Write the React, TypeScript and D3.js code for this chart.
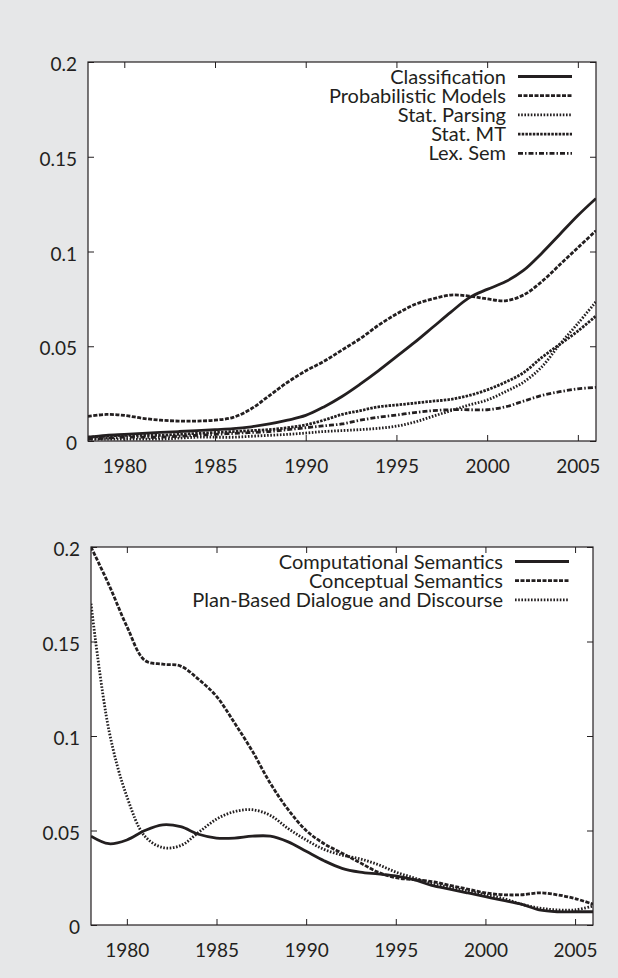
import { useEffect, useRef } from "react";
import * as d3 from "d3";

// years shared by every series
const years = d3.range(1978, 2007);

// top panel
const classification = [0.002, 0.003, 0.0035, 0.004, 0.0045, 0.005, 0.0055, 0.006, 0.0065, 0.0075, 0.009, 0.011, 0.0135, 0.018, 0.0235, 0.03, 0.037, 0.0445, 0.052, 0.06, 0.068, 0.0755, 0.08, 0.084, 0.09, 0.099, 0.109, 0.119, 0.128];
const probModels = [0.013, 0.014, 0.0135, 0.012, 0.011, 0.0105, 0.0105, 0.011, 0.0125, 0.017, 0.024, 0.031, 0.037, 0.042, 0.048, 0.054, 0.061, 0.067, 0.072, 0.075, 0.077, 0.0765, 0.075, 0.074, 0.077, 0.084, 0.093, 0.102, 0.111];
const statParsing = [0.001, 0.001, 0.001, 0.001, 0.001, 0.0015, 0.002, 0.002, 0.002, 0.0025, 0.003, 0.0035, 0.0042, 0.005, 0.0055, 0.006, 0.0067, 0.0078, 0.01, 0.013, 0.016, 0.019, 0.0216, 0.026, 0.031, 0.039, 0.051, 0.062, 0.0735];
const statMT = [0.002, 0.0025, 0.003, 0.003, 0.003, 0.0035, 0.004, 0.0045, 0.005, 0.0055, 0.006, 0.007, 0.0085, 0.011, 0.014, 0.016, 0.018, 0.019, 0.02, 0.021, 0.022, 0.024, 0.027, 0.031, 0.036, 0.044, 0.051, 0.058, 0.066];
const lexSem = [0.001, 0.0015, 0.002, 0.002, 0.002, 0.0025, 0.003, 0.0035, 0.004, 0.0045, 0.005, 0.006, 0.007, 0.008, 0.009, 0.011, 0.0125, 0.0137, 0.015, 0.016, 0.0165, 0.0165, 0.0165, 0.018, 0.021, 0.024, 0.026, 0.0275, 0.0283];

// bottom panel
const compSem = [0.047, 0.043, 0.045, 0.05, 0.053, 0.052, 0.048, 0.046, 0.046, 0.047, 0.047, 0.044, 0.039, 0.034, 0.03, 0.028, 0.027, 0.026, 0.024, 0.021, 0.019, 0.017, 0.015, 0.013, 0.011, 0.008, 0.007, 0.007, 0.007];
const concSem = [0.2, 0.18, 0.158, 0.14, 0.138, 0.137, 0.13, 0.121, 0.107, 0.092, 0.075, 0.061, 0.05, 0.043, 0.038, 0.033, 0.028, 0.025, 0.024, 0.023, 0.021, 0.019, 0.017, 0.016, 0.016, 0.017, 0.016, 0.014, 0.011];
const planDialogue = [0.17, 0.103, 0.068, 0.047, 0.041, 0.042, 0.049, 0.056, 0.06, 0.061, 0.058, 0.051, 0.045, 0.04, 0.037, 0.035, 0.032, 0.028, 0.025, 0.022, 0.02, 0.018, 0.016, 0.014, 0.011, 0.009, 0.008, 0.008, 0.01];

const xTicks = [1980, 1985, 1990, 1995, 2000, 2005];
const yTicks = [0, 0.05, 0.1, 0.15, 0.2];
const yTickLabels = ["0", "0.05", "0.1", "0.15", "0.2"];

const INK = "#231f20";
const FONT = "Lato, 'Open Sans', sans-serif";

type Series = { name: string; values: number[]; dash: string };

const topSeries: Series[] = [
  { name: "Classification", values: classification, dash: "none" },
  { name: "Probabilistic Models", values: probModels, dash: "4,1.5" },
  { name: "Stat. Parsing", values: statParsing, dash: "1.6,1.6" },
  { name: "Stat. MT", values: statMT, dash: "2.5,1.2" },
  { name: "Lex. Sem", values: lexSem, dash: "5,2,1.5,2" },
];

const bottomSeries: Series[] = [
  { name: "Computational Semantics", values: compSem, dash: "none" },
  { name: "Conceptual Semantics", values: concSem, dash: "4,1.5" },
  { name: "Plan-Based Dialogue and Discourse", values: planDialogue, dash: "1.6,1.6" },
];

function drawPanel(
  svg: d3.Selection<SVGSVGElement, unknown, null, undefined>,
  box: { left: number; right: number; top: number; bottom: number },
  series: Series[],
  id: string
) {
  const x = d3.scaleLinear().domain([1978, 2006]).range([box.left, box.right]);
  const y = d3.scaleLinear().domain([0, 0.2]).range([box.bottom, box.top]);
  const g = svg.append("g");

  g.append("rect")
    .attr("x", box.left)
    .attr("y", box.top)
    .attr("width", box.right - box.left)
    .attr("height", box.bottom - box.top)
    .attr("fill", "#fff");

  g.append("clipPath")
    .attr("id", id)
    .append("rect")
    .attr("x", box.left)
    .attr("y", box.top - 1)
    .attr("width", box.right - box.left)
    .attr("height", box.bottom - box.top + 1);

  const line = d3
    .line<number>()
    .x((_, i) => x(years[i]))
    .y((d) => y(d))
    .curve(d3.curveCatmullRom.alpha(0.5));

  const lines = g.append("g").attr("clip-path", `url(#${id})`);
  series.forEach((s) => {
    lines
      .append("path")
      .attr("d", line(s.values))
      .attr("fill", "none")
      .attr("stroke", INK)
      .attr("stroke-width", 2.8)
      .attr("stroke-dasharray", s.dash);
  });

  // axes, ticks mirrored inward on every side
  const styleAxis = (a: d3.Selection<SVGGElement, unknown, null, undefined>) => {
    a.select(".domain").remove();
    a.selectAll("line").attr("stroke", INK).attr("stroke-width", 1);
    a.selectAll("text").attr("fill", INK).style("font-family", FONT).style("font-size", "19px");
  };

  g.append("g")
    .attr("transform", `translate(0,${box.bottom})`)
    .call(d3.axisBottom(x).tickValues(xTicks).tickFormat(d3.format("d")).tickSize(-6).tickPadding(18.5))
    .call(styleAxis);
  g.append("g")
    .attr("transform", `translate(0,${box.top})`)
    .call(d3.axisTop(x).tickValues(xTicks).tickFormat(() => "").tickSize(-6))
    .call(styleAxis);
  const left = g
    .append("g")
    .attr("transform", `translate(${box.left},0)`)
    .call(
      d3.axisLeft(y).tickValues(yTicks).tickFormat((_, i) => yTickLabels[i]).tickSize(-6).tickPadding(11)
    )
    .call(styleAxis);
  left.selectAll("text").attr("dy", "0.45em");
  g.append("g")
    .attr("transform", `translate(${box.right},0)`)
    .call(d3.axisRight(y).tickValues(yTicks).tickFormat(() => "").tickSize(-6))
    .call(styleAxis);

  g.append("rect")
    .attr("x", box.left)
    .attr("y", box.top)
    .attr("width", box.right - box.left)
    .attr("height", box.bottom - box.top)
    .attr("fill", "none")
    .attr("stroke", INK)
    .attr("stroke-width", 1.2);

  // legend
  const legend = g.append("g");
  series.forEach((s, i) => {
    const ly = box.top + 14.5 + i * 19.2;
    legend
      .append("line")
      .attr("x1", box.right - 78)
      .attr("x2", box.right - 24)
      .attr("y1", ly)
      .attr("y2", ly)
      .attr("stroke", INK)
      .attr("stroke-width", 2.8)
      .attr("stroke-dasharray", s.dash);
    legend
      .append("text")
      .attr("x", box.right - 90)
      .attr("y", ly + 7)
      .attr("text-anchor", "end")
      .attr("fill", INK)
      .style("font-family", FONT)
      .style("font-size", "20px")
      .text(s.name);
  });
}

export default function App() {
  const ref = useRef<SVGSVGElement>(null);

  useEffect(() => {
    const svg = d3.select(ref.current!);
    svg.selectAll("*").remove();
    svg.append("rect").attr("width", 618).attr("height", 978).attr("fill", "#e6e7e8");
    drawPanel(svg, { left: 88, right: 596, top: 62, bottom: 441 }, topSeries, "clipTop");
    drawPanel(svg, { left: 91, right: 593, top: 547, bottom: 925 }, bottomSeries, "clipBottom");
  }, []);

  return (
    <svg
      ref={ref}
      width={618}
      height={978}
      style={{ position: "absolute", left: 0, top: 0, display: "block" }}
    />
  );
}
